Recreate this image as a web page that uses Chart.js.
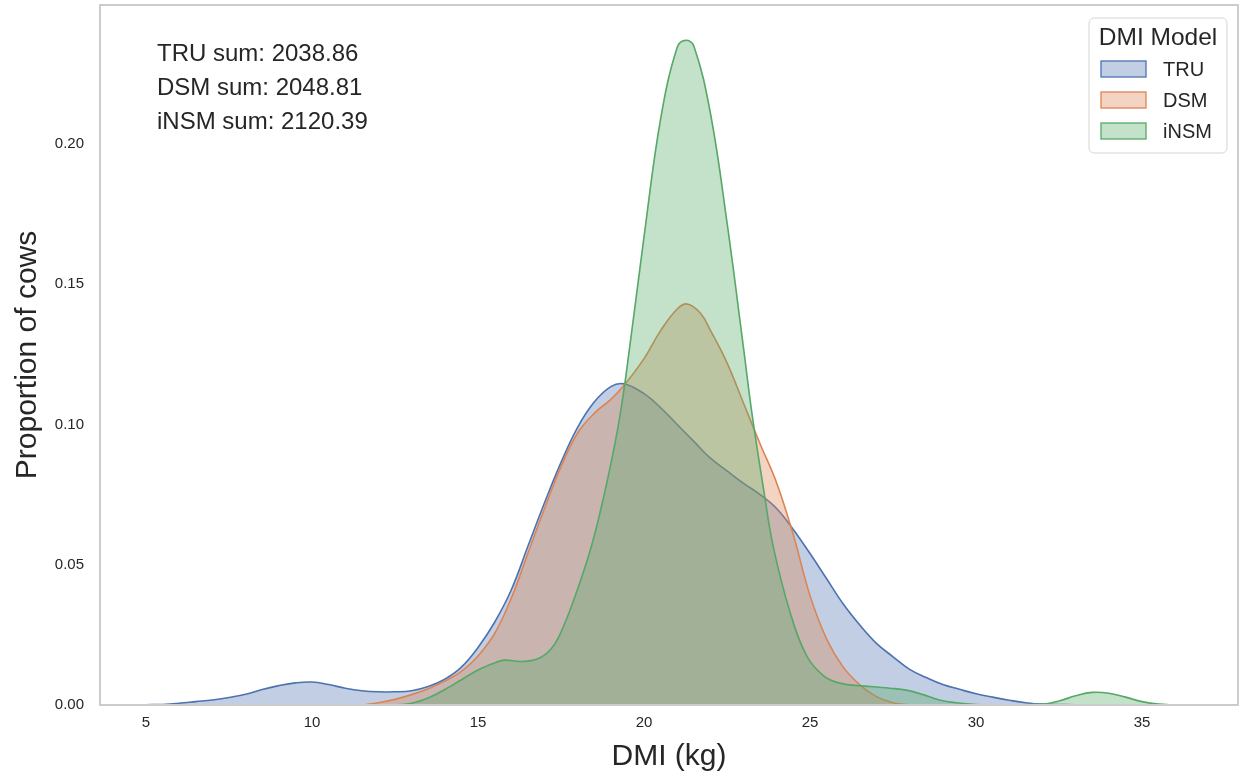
<!DOCTYPE html>
<html>
<head>
<meta charset="utf-8">
<script src="https://cdn.jsdelivr.net/npm/chart.js@4.4.1/dist/chart.umd.min.js"></script>
<style>
  body { margin: 0; background: #fff; }
  #wrap { width: 1241px; height: 776px; position: relative; }
</style>
</head>
<body>
<div id="wrap"><canvas id="kde"></canvas></div>
<script>
// --- data ---
const seriesNames = ['TRU', 'DSM', 'iNSM'];
const seriesSums = ['2038.86', '2048.81', '2120.39'];

const truDmi = [5, 5.5, 6, 6.5, 7, 7.5, 8, 8.5, 9, 9.5, 10, 10.5, 11, 11.5, 12, 12.5, 13, 13.5, 14, 14.5, 15, 15.5, 16, 16.5, 17, 17.5, 18, 18.5, 19, 19.4, 20, 20.5, 21, 21.5, 22, 22.5, 23, 23.5, 24, 24.5, 25, 25.5, 26, 26.5, 27, 27.5, 28, 28.5, 29, 29.5, 30, 30.5, 31, 31.5, 32, 33, 34, 35, 36.4];
const truProp = [0.0001, 0.0002, 0.0006, 0.0012, 0.0018, 0.0027, 0.0038, 0.0055, 0.0069, 0.0079, 0.0082, 0.0073, 0.006, 0.0051, 0.0047, 0.0047, 0.0051, 0.0066, 0.0092, 0.0135, 0.0205, 0.0295, 0.041, 0.0565, 0.072, 0.0865, 0.099, 0.108, 0.1135, 0.1145, 0.111, 0.106, 0.1, 0.094, 0.088, 0.0835, 0.079, 0.075, 0.07, 0.0625, 0.054, 0.045, 0.036, 0.0285, 0.022, 0.0172, 0.0127, 0.0098, 0.0073, 0.0056, 0.004, 0.0028, 0.0017, 0.0008, 0.0003, 0.0001, 0, 0, 0];

const dsmDmi = [11.5, 12, 12.5, 13, 13.5, 14, 14.5, 15, 15.5, 16, 16.5, 17, 17.5, 18, 18.5, 19, 19.4, 20, 20.5, 21, 21.3, 21.7, 22, 22.5, 23, 23.5, 24, 24.5, 25, 25.5, 26, 26.5, 27, 27.5, 28];
const dsmProp = [0, 0.0008, 0.002, 0.0037, 0.0058, 0.0085, 0.012, 0.0175, 0.0255, 0.038, 0.054, 0.07, 0.085, 0.097, 0.104, 0.109, 0.114, 0.1235, 0.1335, 0.1412, 0.143, 0.1397, 0.1336, 0.122, 0.1075, 0.093, 0.079, 0.0605, 0.039, 0.0235, 0.0135, 0.0072, 0.003, 0.0008, 0];

const insmDmi = [12.5, 13, 13.5, 14, 14.5, 15, 15.5, 15.8, 16.3, 16.8, 17.2, 17.5, 17.9, 18.4, 18.8, 19.2, 19.45, 20, 20.5, 21, 21.25, 21.5, 22, 22.5, 23, 23.25, 23.6, 23.9, 24.4, 24.9, 25.4, 25.9, 26.9, 27.4, 27.9, 28.4, 28.9, 29.4, 30, 31, 32, 32.5, 33, 33.5, 34, 34.5, 35, 35.5, 36];
const insmProp = [0, 0.0006, 0.0025, 0.0055, 0.009, 0.0125, 0.015, 0.016, 0.0155, 0.0165, 0.02, 0.026, 0.038, 0.056, 0.075, 0.098, 0.117, 0.167, 0.209, 0.2345, 0.237, 0.235, 0.211, 0.172, 0.127, 0.104, 0.077, 0.056, 0.033, 0.0175, 0.0105, 0.0078, 0.0065, 0.006, 0.0053, 0.0037, 0.0018, 0.0008, 0.0002, 0, 0.0003, 0.0014, 0.0033, 0.0045, 0.0042, 0.0028, 0.0012, 0.0003, 0];

const xTicks = [5, 10, 15, 20, 25, 30, 35];
const yTicks = [0, 0.05, 0.1, 0.15, 0.2];

const lineColors = ['#4c72b0', '#dd8452', '#55a868'];
const fillColors = ['rgba(76,114,176,0.35)', 'rgba(221,132,82,0.35)', 'rgba(85,168,104,0.35)'];

const FONT = "'Liberation Sans', Arial, Helvetica, sans-serif";
Chart.defaults.font.family = FONT;
Chart.defaults.color = '#262626';

function pairs(xs, ys) {
    return xs.map((x, i) => ({ x: x, y: ys[i] }));
}

const allSeries = [pairs(truDmi, truProp), pairs(dsmDmi, dsmProp), pairs(insmDmi, insmProp)];

// frame around the plot, sums text and the legend box
const extras = {
    id: 'extras',
    afterDraw(chart) {
        const ctx = chart.ctx;
        const a = chart.chartArea;
        ctx.save();
        ctx.strokeStyle = '#cccccc';
        ctx.lineWidth = 2;
        ctx.strokeRect(a.left, a.top, a.right - a.left, a.bottom - a.top);

        ctx.fillStyle = '#262626';
        ctx.font = '24px ' + FONT;
        ctx.textBaseline = 'alphabetic';
        ctx.textAlign = 'left';
        seriesNames.forEach((name, i) => {
            ctx.fillText(name + ' sum: ' + seriesSums[i], 157, 61 + i * 34);
        });

        // legend
        const lx = 1089, ly = 18, lw = 138, lh = 135;
        ctx.beginPath();
        ctx.roundRect(lx, ly, lw, lh, 5);
        ctx.fillStyle = 'rgba(255,255,255,0.85)';
        ctx.fill();
        ctx.strokeStyle = '#d5d5d5';
        ctx.lineWidth = 1;
        ctx.stroke();

        ctx.fillStyle = '#262626';
        ctx.font = '24.5px ' + FONT;
        ctx.textAlign = 'center';
        ctx.textBaseline = 'middle';
        ctx.fillText('DMI Model', lx + lw / 2, 38);

        ctx.font = '20px ' + FONT;
        ctx.textAlign = 'left';
        chart.data.datasets.forEach((ds, i) => {
            const cy = 69 + i * 31;
            ctx.fillStyle = ds.backgroundColor;
            ctx.fillRect(1101, cy - 8, 45, 16);
            ctx.strokeStyle = ds.borderColor;
            ctx.lineWidth = 1.3;
            ctx.strokeRect(1101, cy - 8, 45, 16);
            ctx.fillStyle = '#262626';
            ctx.fillText(ds.label, 1163, cy + 1);
        });
        ctx.restore();
    }
};

new Chart(document.getElementById('kde'), {
    type: 'line',
    data: {
        datasets: seriesNames.map((name, i) => ({
            label: name,
            data: allSeries[i],
            borderColor: lineColors[i],
            backgroundColor: fillColors[i],
            borderWidth: 1.6,
            fill: 'origin',
            pointRadius: 0,
            tension: 0.4,
            order: 3 - i
        }))
    },
    options: {
        responsive: true,
        maintainAspectRatio: false,
        animation: false,
        layout: { padding: { top: 5, right: 3, left: 0, bottom: 0 } },
        plugins: {
            legend: { display: false },
            tooltip: { enabled: false }
        },
        scales: {
            x: {
                type: 'linear',
                min: 3.614,
                max: 37.89,
                grid: { display: false, drawTicks: false },
                border: { display: false },
                afterBuildTicks: s => { s.ticks = xTicks.map(v => ({ value: v })); },
                afterFit: s => { s.height = 71; s.paddingLeft = 0; s.paddingRight = 0; },
                ticks: {
                    padding: 9,
                    font: { size: 15 },
                    color: '#262626',
                    maxRotation: 0,
                    callback: v => String(v)
                },
                title: {
                    display: true,
                    text: 'DMI (kg)',
                    font: { size: 30 },
                    color: '#262626',
                    padding: { top: 0, bottom: 1 }
                }
            },
            y: {
                min: 0,
                max: 0.2496,
                grid: { display: false, drawTicks: false },
                border: { display: false },
                afterBuildTicks: s => { s.ticks = yTicks.map(v => ({ value: v })); },
                afterFit: s => { s.width = 100; s.paddingTop = 0; s.paddingBottom = 0; },
                ticks: {
                    padding: 16,
                    font: { size: 15 },
                    color: '#262626',
                    callback: v => v.toFixed(2)
                },
                title: {
                    display: true,
                    text: 'Proportion of cows',
                    font: { size: 30 },
                    color: '#262626',
                    padding: { top: 10, bottom: 0 }
                }
            }
        }
    },
    plugins: [extras]
});
</script>
</body>
</html>
